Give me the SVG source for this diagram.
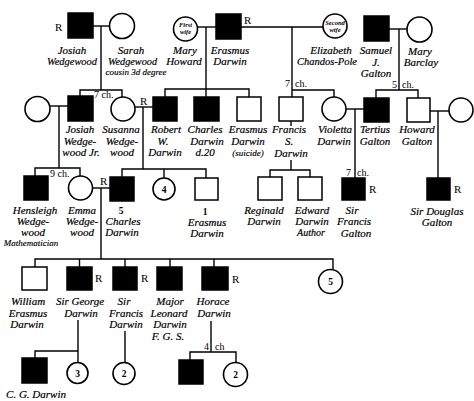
<svg xmlns="http://www.w3.org/2000/svg" width="474" height="401" viewBox="0 0 474 401">
<style>
.m{fill:#000;stroke:#000;stroke-width:1.5}
.o{fill:#fff;stroke:#000;stroke-width:1.5}
.f{fill:#fff;stroke:#000;stroke-width:1.6}
.c line,.c polyline{stroke:#000;stroke-width:1.4;fill:none}
text{font-family:"Liberation Serif","Times New Roman",serif;fill:#000}
.n{font-size:11px;font-style:italic;text-anchor:middle;stroke:#000;stroke-width:0.2}
.s{font-size:9px;font-style:italic;text-anchor:middle;stroke:#000;stroke-width:0.15}
.r{font-size:11px}
.k{font-size:10px}
.d{font-size:9.5px;font-weight:bold;text-anchor:middle}
.w{font-size:6.5px;font-style:italic;font-weight:bold;text-anchor:middle}
</style>
<rect width="474" height="401" fill="#fff"/>
<g class="c" id="connectors">
<line x1="93" y1="26" x2="110" y2="26"/>
<line x1="101" y1="26" x2="101" y2="90"/>
<polyline points="80,96 80,90 122,90 122,97"/>
<line x1="197" y1="27" x2="216" y2="27"/>
<line x1="241" y1="27" x2="323" y2="27"/>
<line x1="206" y1="27" x2="206" y2="89"/>
<polyline points="165,97 165,89 249,89 249,97"/>
<line x1="206" y1="89" x2="206" y2="97"/>
<line x1="292" y1="27" x2="292" y2="97"/>
<polyline points="292,90 334,90 334,97"/>
<line x1="389" y1="29" x2="407" y2="29"/>
<line x1="399" y1="29" x2="399" y2="90"/>
<polyline points="376,98 376,90 418,90 418,98"/>
<line x1="50" y1="106" x2="68" y2="106"/>
<line x1="59" y1="106" x2="59" y2="168"/>
<polyline points="35,176 35,168 80,168 80,176"/>
<line x1="135" y1="107" x2="153" y2="107"/>
<line x1="143" y1="107" x2="143" y2="169"/>
<polyline points="122,177 122,169 206,169 206,178"/>
<line x1="164" y1="169" x2="164" y2="178"/>
<line x1="346" y1="109" x2="364" y2="109"/>
<line x1="355" y1="109" x2="355" y2="178"/>
<line x1="430" y1="111" x2="449" y2="111"/>
<line x1="438" y1="111" x2="438" y2="178"/>
<line x1="291" y1="121" x2="291" y2="126"/>
<line x1="291" y1="160" x2="291" y2="170"/>
<polyline points="270,177 270,170 310,170 310,177"/>
<line x1="93" y1="188" x2="110" y2="188"/>
<line x1="101" y1="188" x2="101" y2="259"/>
<polyline points="35,267 35,259 333,259 333,269"/>
<line x1="79.5" y1="259" x2="79.5" y2="267"/>
<line x1="125" y1="259" x2="125" y2="267"/>
<line x1="170" y1="259" x2="170" y2="267"/>
<line x1="214" y1="259" x2="214" y2="267"/>
<line x1="78" y1="320" x2="78" y2="362"/>
<polyline points="35,358 35,351 78,351"/>
<line x1="125" y1="331" x2="125" y2="362"/>
<line x1="211" y1="321" x2="211" y2="352"/>
<polyline points="190,360 190,352 236,352 236,362"/>
<text class="k" x="94" y="98">7 ch.</text>
<text class="k" x="285" y="87">7 <tspan x="295">ch.</tspan></text>
<text class="k" x="392" y="88">5 <tspan x="402">ch.</tspan></text>
<text class="k" x="50" y="177">9 ch.</text>
<text class="k" x="346" y="176">7 <tspan x="357">ch.</tspan></text>
<text class="k" x="204" y="350">4 <tspan x="215">ch</tspan></text>
</g>
<g id="josiah-wedgewood"><rect class="m" x="68" y="13" width="25" height="25"/><text class="r" x="55" y="31">R</text><text class="n" x="72" y="54">Josiah</text><text class="n" x="72" y="65" textLength="50" lengthAdjust="spacingAndGlyphs">Wedgewood</text></g>
<g id="sarah-wedgewood"><circle class="f" cx="122" cy="26" r="12.5"/><text class="n" x="131" y="54">Sarah</text><text class="n" x="132.5" y="65" textLength="49" lengthAdjust="spacingAndGlyphs">Wedgewood</text><text class="s" x="136" y="75">cousin 3d degree</text></g>
<g id="mary-howard"><circle class="f" cx="185.5" cy="29" r="12"/><text class="w" x="185.5" y="27">First</text><text class="w" x="185.5" y="34">wife</text><text class="n" x="185" y="54">Mary</text><text class="n" x="184" y="65">Howard</text></g>
<g id="erasmus-darwin"><rect class="m" x="216" y="14" width="25" height="25"/><text class="r" x="244" y="24">R</text><text class="n" x="230" y="54">Erasmus</text><text class="n" x="230" y="65">Darwin</text></g>
<g id="elizabeth-chandos-pole"><circle class="f" cx="335" cy="26" r="12"/><text class="w" x="335" y="25">Second</text><text class="w" x="335" y="32">wife</text><text class="n" x="331" y="54">Elizabeth</text><text class="n" x="327" y="65" textLength="60" lengthAdjust="spacingAndGlyphs">Chandos-Pole</text></g>
<g id="samuel-galton"><rect class="m" x="364" y="16" width="25" height="25"/><text class="n" x="376" y="54">Samuel</text><text class="n" x="376" y="66">J.</text><text class="n" x="376" y="77">Galton</text></g>
<g id="mary-barclay"><circle class="f" cx="419.5" cy="29.5" r="12.5"/><text class="n" x="420" y="55">Mary</text><text class="n" x="421" y="66">Barclay</text></g>
<g id="wife-josiah-jr"><circle class="f" cx="37.5" cy="109" r="12.5"/></g>
<g id="josiah-wedgewood-jr"><rect class="m" x="68" y="96" width="25" height="25"/><text class="n" x="80" y="133">Josiah</text><text class="n" x="80" y="145">Wedge-</text><text class="n" x="81" y="156">wood Jr.</text></g>
<g id="susanna-wedgewood"><circle class="f" cx="123" cy="109" r="12"/><text class="n" x="121" y="133">Susanna</text><text class="n" x="122" y="145">Wedge-</text><text class="n" x="122" y="156">wood</text></g>
<g id="robert-darwin"><rect class="m" x="153" y="97" width="24" height="24"/><text class="r" x="140" y="105">R</text><text class="n" x="166" y="133">Robert</text><text class="n" x="163" y="145">W.</text><text class="n" x="165" y="156">Darwin</text></g>
<g id="charles-darwin-d20"><rect class="m" x="194" y="97" width="25" height="24"/><text class="n" x="205" y="133">Charles</text><text class="n" x="207" y="145">Darwin</text><text class="n" x="205" y="156">d.20</text></g>
<g id="erasmus-darwin-suicide"><rect class="o" x="237" y="97" width="24" height="24"/><text class="n" x="248" y="133">Erasmus</text><text class="n" x="248" y="145">Darwin</text><text class="s" x="248" y="156">(suicide)</text></g>
<g id="francis-s-darwin"><rect class="o" x="279" y="97" width="24" height="24"/><text class="n" x="289" y="133">Francis</text><text class="n" x="289" y="145">S.</text><text class="n" x="291" y="157">Darwin</text></g>
<g id="violetta-darwin"><circle class="f" cx="334" cy="109" r="12"/><text class="n" x="335" y="133">Violetta</text><text class="n" x="334" y="145">Darwin</text></g>
<g id="tertius-galton"><rect class="m" x="364" y="98" width="25" height="24"/><text class="n" x="375" y="133">Tertius</text><text class="n" x="375" y="145">Galton</text></g>
<g id="howard-galton"><rect class="o" x="407" y="98" width="23" height="24"/><text class="n" x="417" y="133">Howard</text><text class="n" x="417" y="145">Galton</text></g>
<g id="wife-howard"><circle class="f" cx="461" cy="110" r="12"/></g>
<g id="hensleigh-wedgewood"><rect class="m" x="24" y="176" width="24" height="24"/><text class="n" x="35" y="214">Hensleigh</text><text class="n" x="33" y="225">Wedge-</text><text class="n" x="33" y="236">wood</text><text class="s" x="31" y="246">Mathematician</text></g>
<g id="emma-wedgewood"><circle class="f" cx="80.5" cy="188" r="12"/><text class="n" x="82" y="214">Emma</text><text class="n" x="82" y="225">Wedge-</text><text class="n" x="82" y="236">wood</text></g>
<g id="charles-darwin"><rect class="m" x="110" y="177" width="24" height="24"/><text class="r" x="100" y="185">R</text><text class="d" x="121" y="214">5</text><text class="n" x="123" y="225">Charles</text><text class="n" x="122" y="236">Darwin</text></g>
<g id="four-daughters"><circle class="f" cx="164" cy="189" r="11"/><text class="d" x="164" y="192.5">4</text></g>
<g id="erasmus-darwin-1"><rect class="o" x="195" y="178" width="23" height="22"/><text class="d" x="205" y="215">1</text><text class="n" x="207" y="226">Erasmus</text><text class="n" x="207" y="237">Darwin</text></g>
<g id="reginald-darwin"><rect class="o" x="258" y="177" width="24" height="23"/><text class="n" x="264" y="214">Reginald</text><text class="n" x="264" y="225">Darwin</text></g>
<g id="edward-darwin"><rect class="o" x="298" y="177" width="24" height="23"/><text class="n" x="312" y="214">Edward</text><text class="n" x="312" y="225">Darwin</text><text class="n" x="311" y="236" style="font-size:10px">Author</text></g>
<g id="sir-francis-galton"><rect class="m" x="342" y="178" width="23" height="22"/><text class="r" x="369" y="193">R</text><text class="n" x="352" y="214">Sir</text><text class="n" x="354" y="225">Francis</text><text class="n" x="356" y="237">Galton</text></g>
<g id="sir-douglas-galton"><rect class="m" x="427" y="178" width="23" height="22"/><text class="r" x="454" y="193">R</text><text class="n" x="437" y="215">Sir Douglas</text><text class="n" x="437" y="226">Galton</text></g>
<g id="william-darwin"><rect class="o" x="22" y="267" width="25" height="23"/><text class="n" x="28" y="305">William</text><text class="n" x="28" y="317">Erasmus</text><text class="n" x="27" y="328">Darwin</text></g>
<g id="sir-george-darwin"><rect class="m" x="67" y="267" width="25" height="23"/><text class="r" x="95" y="282">R</text><text class="n" x="80" y="305">Sir George</text><text class="n" x="81" y="317">Darwin</text></g>
<g id="sir-francis-darwin"><rect class="m" x="113" y="267" width="24" height="23"/><text class="r" x="141" y="282">R</text><text class="n" x="124" y="305">Sir</text><text class="n" x="126" y="317">Francis</text><text class="n" x="126" y="328">Darwin</text></g>
<g id="leonard-darwin"><rect class="m" x="157" y="267" width="25" height="23"/><text class="n" x="170" y="305">Major</text><text class="n" x="169" y="317">Leonard</text><text class="n" x="170" y="328">Darwin</text><text class="n" x="168" y="340">F. G. S.</text></g>
<g id="horace-darwin"><rect class="m" x="202" y="267" width="26" height="23"/><text class="r" x="232" y="283">R</text><text class="n" x="213" y="305">Horace</text><text class="n" x="214" y="317">Darwin</text></g>
<g id="five-daughters"><circle class="f" cx="330.5" cy="281.5" r="12"/><text class="d" x="330.5" y="285">5</text></g>
<g id="cg-darwin"><rect class="m" x="22" y="358" width="25" height="25"/><text class="n" x="36" y="398">C. G. Darwin</text></g>
<g id="george-daughters"><circle class="f" cx="77.5" cy="373" r="10.5"/><text class="d" x="77.5" y="376.5">3</text></g>
<g id="francis-children"><circle class="f" cx="124" cy="373.5" r="11"/><text class="d" x="124" y="377">2</text></g>
<g id="horace-son"><rect class="m" x="179" y="360" width="24" height="24"/></g>
<g id="horace-daughters"><circle class="f" cx="235.5" cy="374.5" r="12"/><text class="d" x="235.5" y="378">2</text></g>
</svg>
